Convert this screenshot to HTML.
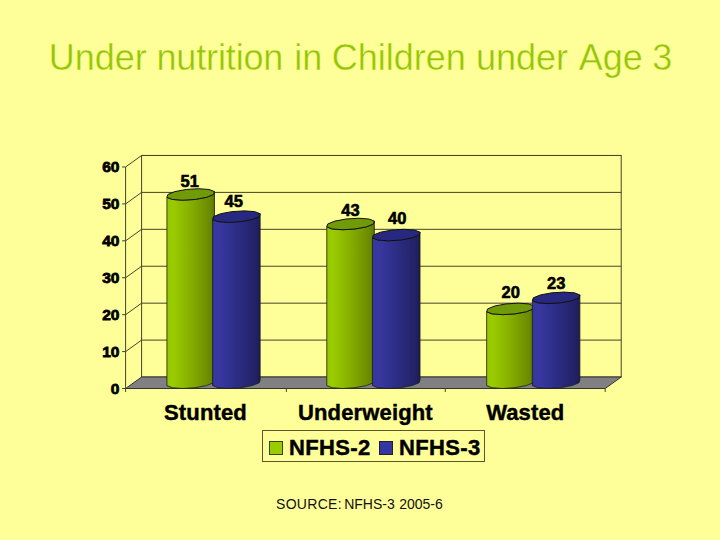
<!DOCTYPE html>
<html><head><meta charset="utf-8"><style>
html,body{margin:0;padding:0}
body{width:720px;height:540px;background:#FFFF99;position:relative;overflow:hidden;font-family:"Liberation Sans",sans-serif}
.tw{position:absolute;top:37px;color:#94C508;font-size:36px;line-height:41px;white-space:nowrap;-webkit-text-stroke:0.4px #FFFF99}
svg{position:absolute;left:0;top:0}
.yl{position:absolute;left:88px;width:31px;text-align:right;font-weight:bold;font-size:15.5px;line-height:16px;color:#000;-webkit-text-stroke:0.8px #000;letter-spacing:-0.3px}
.dl{position:absolute;width:40px;text-align:center;font-weight:bold;font-size:16.5px;line-height:16px;color:#000;-webkit-text-stroke:0.6px #000}
.cl{position:absolute;top:401px;width:160px;text-align:center;font-weight:bold;font-size:22px;line-height:24px;color:#000;-webkit-text-stroke:0.45px #000;letter-spacing:0.15px}
.leg{position:absolute;left:262px;top:430px;width:221px;height:30px;border:1px solid #5a5a30;box-sizing:content-box}
.sq{position:absolute;top:10px;width:12px;height:12px;border:1px solid #222}
.lt{position:absolute;top:5px;font-weight:bold;font-size:22px;line-height:24px;color:#000;-webkit-text-stroke:0.45px #000;letter-spacing:0.35px}
.src{position:absolute;top:496px;font-size:14px;line-height:16px;color:#111;white-space:nowrap}
</style></head><body>
<div class="tw" style="left:48.70px">Under</div><div class="tw" style="left:156.50px;letter-spacing:-0.15px">nutrition</div><div class="tw" style="left:294.25px">in</div><div class="tw" style="left:331.75px">Children</div><div class="tw" style="left:475.90px">under</div><div class="tw" style="left:578.75px">Age</div><div class="tw" style="left:652.30px">3</div>
<svg width="720" height="540" viewBox="0 0 720 540"><defs>
<linearGradient id="g0" x1="0" x2="1" y1="0" y2="0">
<stop offset="0" stop-color="#94c600"/><stop offset="0.12" stop-color="#9acc00"/><stop offset="0.5" stop-color="#86ae00"/><stop offset="0.9" stop-color="#6a8a00"/><stop offset="1" stop-color="#5c7600"/></linearGradient>
<linearGradient id="g1" x1="0" x2="1" y1="0" y2="0">
<stop offset="0" stop-color="#36369e"/><stop offset="0.12" stop-color="#3838a2"/><stop offset="0.5" stop-color="#2d2d86"/><stop offset="0.9" stop-color="#222266"/><stop offset="1" stop-color="#1c1c55"/></linearGradient>
</defs><rect x="141.60" y="155.48" width="479.60" height="221.52" fill="none" stroke="#44442a" stroke-width="1"/><line x1="125.60" y1="351.58" x2="141.60" y2="340.08" stroke="#44442a" stroke-width="1"/><line x1="141.60" y1="340.08" x2="621.20" y2="340.08" stroke="#44442a" stroke-width="1"/><line x1="125.60" y1="314.66" x2="141.60" y2="303.16" stroke="#44442a" stroke-width="1"/><line x1="141.60" y1="303.16" x2="621.20" y2="303.16" stroke="#44442a" stroke-width="1"/><line x1="125.60" y1="277.74" x2="141.60" y2="266.24" stroke="#44442a" stroke-width="1"/><line x1="141.60" y1="266.24" x2="621.20" y2="266.24" stroke="#44442a" stroke-width="1"/><line x1="125.60" y1="240.82" x2="141.60" y2="229.32" stroke="#44442a" stroke-width="1"/><line x1="141.60" y1="229.32" x2="621.20" y2="229.32" stroke="#44442a" stroke-width="1"/><line x1="125.60" y1="203.90" x2="141.60" y2="192.40" stroke="#44442a" stroke-width="1"/><line x1="141.60" y1="192.40" x2="621.20" y2="192.40" stroke="#44442a" stroke-width="1"/><line x1="125.60" y1="166.98" x2="141.60" y2="155.48" stroke="#44442a" stroke-width="1"/><line x1="141.60" y1="155.48" x2="621.20" y2="155.48" stroke="#44442a" stroke-width="1"/><line x1="125.60" y1="166.98" x2="125.60" y2="388.50" stroke="#44442a" stroke-width="1"/><line x1="122.10" y1="388.50" x2="125.60" y2="388.50" stroke="#44442a" stroke-width="1"/><line x1="122.10" y1="351.58" x2="125.60" y2="351.58" stroke="#44442a" stroke-width="1"/><line x1="122.10" y1="314.66" x2="125.60" y2="314.66" stroke="#44442a" stroke-width="1"/><line x1="122.10" y1="277.74" x2="125.60" y2="277.74" stroke="#44442a" stroke-width="1"/><line x1="122.10" y1="240.82" x2="125.60" y2="240.82" stroke="#44442a" stroke-width="1"/><line x1="122.10" y1="203.90" x2="125.60" y2="203.90" stroke="#44442a" stroke-width="1"/><line x1="122.10" y1="166.98" x2="125.60" y2="166.98" stroke="#44442a" stroke-width="1"/><path d="M125.60,388.50 L605.20,388.50 L621.20,377.00 L141.60,377.00 Z" fill="#808082" stroke="#333" stroke-width="1"/><line x1="125.60" y1="388.50" x2="125.60" y2="392.00" stroke="#44442a" stroke-width="1"/><line x1="286.35" y1="388.50" x2="286.35" y2="392.00" stroke="#44442a" stroke-width="1"/><line x1="445.25" y1="388.50" x2="445.25" y2="392.00" stroke="#44442a" stroke-width="1"/><line x1="605.20" y1="388.50" x2="605.20" y2="392.00" stroke="#44442a" stroke-width="1"/><path d="M166.92,385.62 L172.35,387.73 L182.70,388.50 L195.19,387.73 L206.47,385.62 L213.53,382.75 L214.47,379.88 L214.47,191.58 L213.53,194.46 L206.47,197.33 L195.19,199.44 L182.70,200.21 L172.35,199.44 L166.92,197.33 Z" fill="url(#g0)" stroke="#1a1a1a" stroke-width="0.8" stroke-linejoin="round"/><path d="M213.53,194.46 L214.47,191.58 L209.04,189.48 L198.70,188.71 L186.20,189.48 L174.92,191.58 L167.86,194.46 L166.92,197.33 L172.35,199.44 L182.70,200.21 L195.19,199.44 L206.47,197.33 Z" fill="#719a08" stroke="#111" stroke-width="1" stroke-linejoin="round"/><path d="M212.59,385.62 L218.02,387.73 L228.37,388.50 L240.86,387.73 L252.15,385.62 L259.21,382.75 L260.15,379.88 L260.15,213.73 L259.21,216.61 L252.15,219.48 L240.86,221.59 L228.37,222.36 L218.02,221.59 L212.59,219.48 Z" fill="url(#g1)" stroke="#1a1a1a" stroke-width="0.8" stroke-linejoin="round"/><path d="M259.21,216.61 L260.15,213.73 L254.72,211.63 L244.37,210.86 L231.88,211.63 L220.59,213.73 L213.53,216.61 L212.59,219.48 L218.02,221.59 L228.37,222.36 L240.86,221.59 L252.15,219.48 Z" fill="#282880" stroke="#111" stroke-width="1" stroke-linejoin="round"/><path d="M326.78,385.62 L332.21,387.73 L342.56,388.50 L355.05,387.73 L366.34,385.62 L373.40,382.75 L374.34,379.88 L374.34,221.12 L373.40,223.99 L366.34,226.87 L355.05,228.97 L342.56,229.74 L332.21,228.97 L326.78,226.87 Z" fill="url(#g0)" stroke="#1a1a1a" stroke-width="0.8" stroke-linejoin="round"/><path d="M373.40,223.99 L374.34,221.12 L368.91,219.01 L358.56,218.24 L346.07,219.01 L334.78,221.12 L327.72,223.99 L326.78,226.87 L332.21,228.97 L342.56,229.74 L355.05,228.97 L366.34,226.87 Z" fill="#719a08" stroke="#111" stroke-width="1" stroke-linejoin="round"/><path d="M372.46,385.62 L377.89,387.73 L388.24,388.50 L400.73,387.73 L412.02,385.62 L419.08,382.75 L420.02,379.88 L420.02,232.19 L419.08,235.07 L412.02,237.94 L400.73,240.05 L388.24,240.82 L377.89,240.05 L372.46,237.94 Z" fill="url(#g1)" stroke="#1a1a1a" stroke-width="0.8" stroke-linejoin="round"/><path d="M419.08,235.07 L420.02,232.19 L414.59,230.09 L404.24,229.32 L391.75,230.09 L380.46,232.19 L373.40,235.07 L372.46,237.94 L377.89,240.05 L388.24,240.82 L400.73,240.05 L412.02,237.94 Z" fill="#282880" stroke="#111" stroke-width="1" stroke-linejoin="round"/><path d="M486.65,385.62 L492.08,387.73 L502.43,388.50 L514.92,387.73 L526.21,385.62 L533.27,382.75 L534.21,379.88 L534.21,306.03 L533.27,308.91 L526.21,311.78 L514.92,313.89 L502.43,314.66 L492.08,313.89 L486.65,311.78 Z" fill="url(#g0)" stroke="#1a1a1a" stroke-width="0.8" stroke-linejoin="round"/><path d="M533.27,308.91 L534.21,306.03 L528.78,303.93 L518.43,303.16 L505.94,303.93 L494.65,306.03 L487.59,308.91 L486.65,311.78 L492.08,313.89 L502.43,314.66 L514.92,313.89 L526.21,311.78 Z" fill="#719a08" stroke="#111" stroke-width="1" stroke-linejoin="round"/><path d="M532.33,385.62 L537.76,387.73 L548.10,388.50 L560.60,387.73 L571.88,385.62 L578.94,382.75 L579.88,379.88 L579.88,294.96 L578.94,297.83 L571.88,300.71 L560.60,302.81 L548.10,303.58 L537.76,302.81 L532.33,300.71 Z" fill="url(#g1)" stroke="#1a1a1a" stroke-width="0.8" stroke-linejoin="round"/><path d="M578.94,297.83 L579.88,294.96 L574.45,292.85 L564.10,292.08 L551.61,292.85 L540.33,294.96 L533.27,297.83 L532.33,300.71 L537.76,302.81 L548.10,303.58 L560.60,302.81 L571.88,300.71 Z" fill="#282880" stroke="#111" stroke-width="1" stroke-linejoin="round"/></svg>
<div class="yl" style="top:380.5px">0</div><div class="yl" style="top:343.6px">10</div><div class="yl" style="top:306.7px">20</div><div class="yl" style="top:269.7px">30</div><div class="yl" style="top:232.8px">40</div><div class="yl" style="top:195.9px">50</div><div class="yl" style="top:159.0px">60</div><div class="dl" style="left:169.7px;top:172.6px">51</div><div class="dl" style="left:213.7px;top:192.8px">45</div><div class="dl" style="left:330.4px;top:202.1px">43</div><div class="dl" style="left:377.3px;top:210.4px">40</div><div class="dl" style="left:490.8px;top:284.3px">20</div><div class="dl" style="left:536.2px;top:274.8px">23</div><div class="cl" style="left:125.5px">Stunted</div><div class="cl" style="left:285.4px">Underweight</div><div class="cl" style="left:445.3px">Wasted</div>
<div class="leg"><div class="sq" style="left:6px;background:#99CC00;border-color:#3a4200"></div><div class="lt" style="left:26px">NFHS-2</div><div class="sq" style="left:116px;background:#3535a6"></div><div class="lt" style="left:136px">NFHS-3</div></div>
<div class="src" style="left:276px;letter-spacing:0.3px">SOURCE:</div><div class="src" style="left:344.2px">NFHS-3</div><div class="src" style="left:399.2px">2005-6</div>
</body></html>
